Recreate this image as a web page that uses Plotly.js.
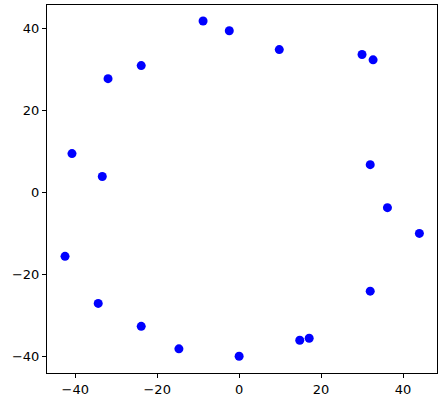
<!DOCTYPE html>
<html>
<head>
<meta charset="utf-8">
<script src="https://cdn.plot.ly/plotly-3.0.1.min.js"></script>
<style>
  html, body { margin: 0; padding: 0; background: #fff; }
  #myDiv { width: 442px; height: 404px; }
</style>
</head>
<body>
<div id="myDiv"></div>
<script>
// point coordinates
var xs = [-8.8, -23.9, -32.0, -40.8, -33.4, -2.4, 9.8, 30.0, 32.7, 32.0,
          -42.5, -34.4, -23.9, -14.7, 36.2, 44.0, 32.0, 14.8, 17.1, 0.0];
var ys = [41.9, 31.0, 27.8, 9.5, 3.9, 39.5, 34.9, 33.7, 32.4, 6.8,
          -15.6, -27.1, -32.7, -38.2, -3.7, -10.0, -24.1, -36.1, -35.6, -40.0];
var xTicks = [-40, -20, 0, 20, 40];
var yTicks = [-40, -20, 0, 20, 40];

var pts = {
  x: xs,
  y: ys,
  type: "scatter",
  mode: "markers",
  marker: { color: "#0000ff", size: 9 },
  hoverinfo: "none",
};

var axisStyle = {
  showgrid: false,
  zeroline: false,
  showline: true,
  mirror: true,
  linecolor: "#000",
  linewidth: 1,
  ticks: "outside",
  ticklen: 4,
  tickwidth: 1,
  tickcolor: "#000",
  tickmode: "array",
  tickfont: { family: "DejaVu Sans", size: 13, color: "#000" },
};

var layout = {
  width: 442,
  height: 404,
  margin: { l: 47, r: 5, t: 5, b: 31 },
  paper_bgcolor: "#fff",
  plot_bgcolor: "#fff",
  showlegend: false,
  xaxis: Object.assign({}, axisStyle, { range: [-46.9, 48.3], tickvals: xTicks }),
  yaxis: Object.assign({}, axisStyle, { range: [-44.1, 45.8], tickvals: yTicks }),
};

Plotly.newPlot("myDiv", [pts], layout, { displayModeBar: false, staticPlot: true });
</script>
</body>
</html>
